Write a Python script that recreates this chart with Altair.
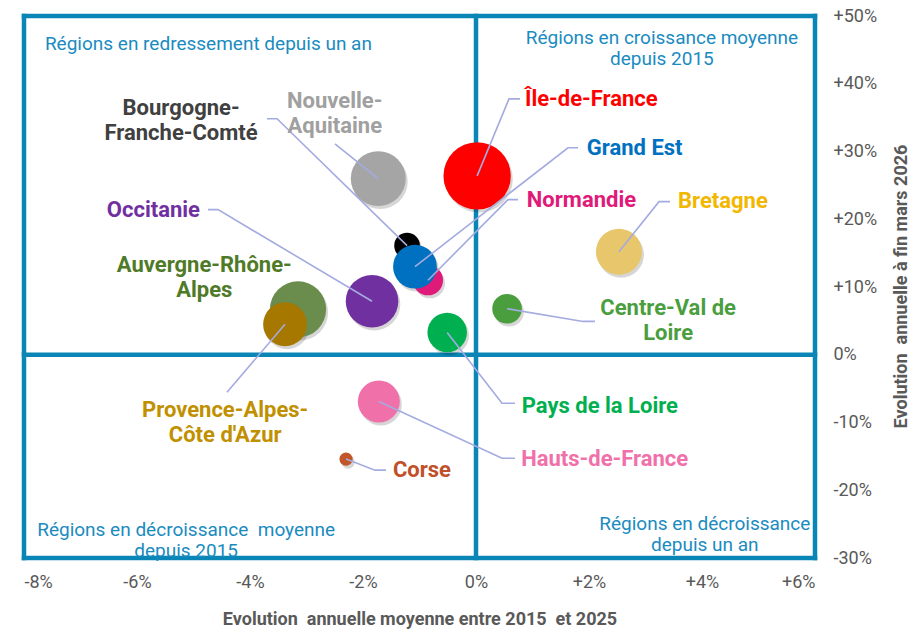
import altair as alt
import pandas as pd

# ---------------- data ----------------
regions = ["Île-de-France", "Nouvelle-Aquitaine", "Bretagne", "Hauts-de-France", "Corse",
           "Occitanie", "Auvergne-Rhône-Alpes", "Provence-Alpes-Côte d'Azur",
           "Pays de la Loire", "Centre-Val de Loire", "Normandie",
           "Bourgogne-Franche-Comté", "Grand Est"]
# evolution annuelle moyenne 2015-2025 (%)
evol_moyenne = [0.02, -1.73, 2.53, -1.72, -2.30, -1.84, -3.15, -3.38, -0.51, 0.55, -0.85, -1.22, -1.08]
# evolution annuelle a fin mars 2026 (%)
evol_annuelle = [26.4, 26.0, 15.2, -6.9, -15.4, 7.9, 6.7, 4.5, 3.3, 6.8, 11.0, 16.1, 13.0]
# relative bubble weight
poids = [1444, 961, 676, 562, 56, 882, 1005, 610, 497, 279, 289, 210, 610]

couleur_bulle = ["#ff0000", "#a5a5a5", "#e8c66c", "#f070aa", "#c0562a", "#7030a0", "#6a8c4c",
                 "#a67800", "#00b050", "#4a9e3e", "#e01a78", "#000000", "#0070c0"]
couleur_label = ["#ff0000", "#a0a0a0", "#f2b700", "#f070aa", "#c0502a", "#7030a0", "#4f7a28",
                 "#c09000", "#00b050", "#4a9e3e", "#e01a78", "#404040", "#0070c0"]

libelles = ["Île-de-France", "Nouvelle-\nAquitaine", "Bretagne", "Hauts-de-France", "Corse",
            "Occitanie", "Auvergne-Rhône-\nAlpes", "Provence-Alpes-\nCôte d'Azur",
            "Pays de la Loire", "Centre-Val de\nLoire", "Normandie",
            "Bourgogne-\nFranche-Comté", "Grand Est"]
# anchor of the first line of each label (data units)
label_x = [0.867, -2.50, 3.575, 0.80, -1.47, -4.885, -4.81, -4.44, 0.81, 3.40, 0.90, -5.22, 1.96]
label_y = [37.8, 37.5, 22.75, -15.4, -17.0, 21.4, 13.2, -8.2, -7.5, 6.85, 22.9, 36.45, 30.55]
label_align = ["left", "center", "left", "left", "left", "right", "center", "center",
               "left", "center", "left", "center", "left"]

# leader lines: elbow and end points (data units), None = no leader
coude_x = [0.584, None, 3.239, 0.460, -1.788, -4.566, None, None, 0.460, 1.894, 0.566, -3.522, 1.628]
coude_y = [37.77, None, 22.6, -15.27, -17.03, 21.42, None, None, -7.16, 4.92, 22.9, 34.83, 30.55]
fin_x = [0.779, -2.496, 3.434, 0.690, -1.593, -4.743, None, -4.407, 0.690, 2.106, 0.743, -3.699, 1.805]
fin_y = [37.77, 31.14, 22.6, -15.27, -17.03, 21.42, None, -5.54, -7.16, 4.92, 22.9, 34.83, 30.55]

quadrants = ["Régions en redressement depuis un an",
             "Régions en croissance moyenne\ndepuis 2015",
             "Régions en décroissance\u00a0 moyenne\ndepuis 2015",
             "Régions en décroissance\ndepuis un an"]
quad_x = [-7.63, 3.29, -5.13, 4.05]
quad_y = [45.9, 46.75, -25.9, -25.0]
quad_align = ["left", "center", "center", "center"]

x_ticks = [-8, -6, -4, -2, 0, 2, 4, 6]
y_ticks = [-30, -20, -10, 0, 10, 20, 30, 40, 50]
cadre_x = [-8, 0, 6]
cadre_y = [-30, 0, 50]

# ---------------- tables ----------------
bulles = pd.DataFrame({"region": regions, "x": evol_moyenne, "y": evol_annuelle, "poids": poids,
                       "cb": couleur_bulle, "ordre": list(range(len(regions)))})
labels = pd.DataFrame({"txt": libelles, "x": label_x, "y": label_y, "c": couleur_label,
                       "align": label_align})
rows = []
for i, r in enumerate(regions):
    if fin_x[i] is None:
        continue
    pts = [(evol_moyenne[i], evol_annuelle[i])]
    if coude_x[i] is not None:
        pts.append((coude_x[i], coude_y[i]))
    pts.append((fin_x[i], fin_y[i]))
    for k, (px, py) in enumerate(pts):
        rows.append({"region": r, "k": k, "x": px, "y": py})
lignes = pd.DataFrame(rows)
quad = pd.DataFrame({"txt": quadrants, "x": quad_x, "y": quad_y, "align": quad_align})

# ---------------- scales & axes ----------------
FONT = "Roboto"
FRAME = "#0a86b6"
QCOL = "#1a8bc0"
xs = alt.Scale(domain=[-8, 6], nice=False, zero=False)
ys = alt.Scale(domain=[-30, 50], nice=False, zero=False)
xaxis = alt.Axis(title="Evolution\u00a0 annuelle moyenne entre 2015\u00a0 et 2025", values=x_ticks,
                 labelExpr="(datum.value > 0 ? '+' : '') + datum.value + '%'",
                 grid=False, ticks=False, domain=False, labelPadding=15,
                 labelFontSize=18, labelColor="#595959", labelFont=FONT,
                 titleFont=FONT, titleFontSize=18, titleFontWeight="bold", titleColor="#595959",
                 titleY=61, titleBaseline="middle")
yaxis = alt.Axis(title="Evolution\u00a0 annuelle à fin mars 2026", values=y_ticks, orient="right",
                 labelExpr="(datum.value > 0 ? '+' : '') + datum.value + '%'",
                 grid=False, ticks=False, domain=False, labelPadding=18, labelAlign="left",
                 labelBaseline="middle",
                 labelFontSize=18, labelColor="#595959", labelFont=FONT,
                 titleFont=FONT, titleFontSize=18, titleFontWeight="bold", titleColor="#595959",
                 titleAngle=270, titleX=86, titleY=270, titleAlign="center", titleBaseline="middle")


def X(f):
    return alt.X(f, type="quantitative", scale=xs, axis=xaxis)


def Y(f):
    return alt.Y(f, type="quantitative", scale=ys, axis=yaxis)


size_scale = alt.Scale(domain=[0, 1444], range=[0, 3.14159 * 1444])

vlines = alt.Chart(pd.DataFrame({"v": cadre_x})).mark_rule(
    color=FRAME, strokeWidth=4.5, strokeCap="square").encode(x=X("v"))
hlines = alt.Chart(pd.DataFrame({"v": cadre_y})).mark_rule(
    color=FRAME, strokeWidth=4.5, strokeCap="square").encode(y=Y("v"))

ombre = alt.Chart(bulles).mark_circle(opacity=0.16, color="#000000", xOffset=2, yOffset=3).encode(
    x=X("x"), y=Y("y"), size=alt.Size("poids:Q", scale=size_scale, legend=None),
    order=alt.Order("ordre:Q"))
cercles = alt.Chart(bulles).mark_circle(opacity=1).encode(
    x=X("x"), y=Y("y"), size=alt.Size("poids:Q", scale=size_scale, legend=None),
    color=alt.Color("cb:N", scale=None), order=alt.Order("ordre:Q"))

leaders = alt.Chart(lignes).mark_line(color="#a4abe0", strokeWidth=1.6).encode(
    x=X("x"), y=Y("y"), detail="region:N", order="k:Q")


def label_layer(align):
    return alt.Chart(labels).transform_filter(alt.datum.align == align).mark_text(
        align=align, baseline="middle", font=FONT, fontSize=22, fontWeight="bold",
        lineBreak="\n", lineHeight=25).encode(
        x=X("x"), y=Y("y"), text="txt:N", color=alt.Color("c:N", scale=None))


def quad_layer(align):
    return alt.Chart(quad).transform_filter(alt.datum.align == align).mark_text(
        align=align, baseline="middle", font=FONT, fontSize=19, color=QCOL,
        lineBreak="\n", lineHeight=21).encode(x=X("x"), y=Y("y"), text="txt:N")


chart = alt.layer(
    vlines, hlines, ombre, cercles, leaders,
    label_layer("left"), label_layer("center"), label_layer("right"),
    quad_layer("left"), quad_layer("center"),
).properties(
    width=791, height=542,
    autosize=alt.AutoSizeParams(type="none"),
    padding={"left": 16, "top": 8, "right": 98, "bottom": 71},
    background="white",
).configure_view(stroke=None)

chart.save("out.html", embed_options={"renderer": "svg", "actions": False})
